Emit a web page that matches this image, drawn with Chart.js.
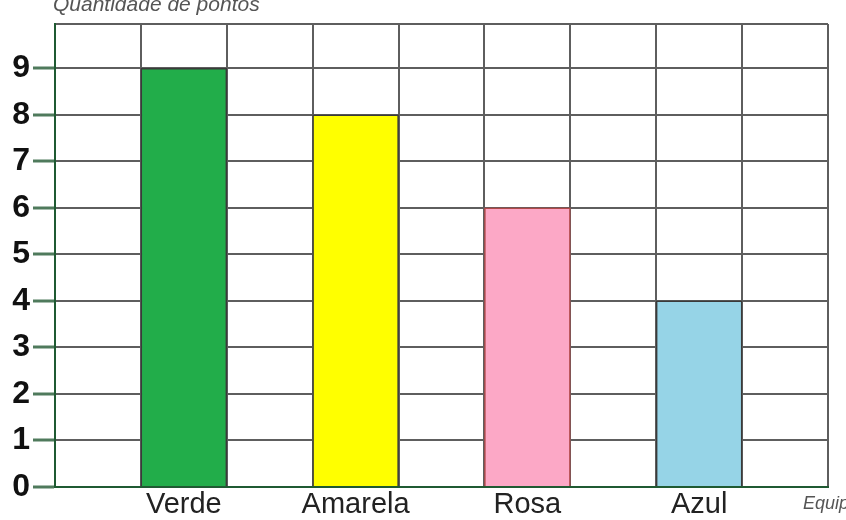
<!DOCTYPE html>
<html>
<head>
<meta charset="utf-8">
<script src="https://cdn.jsdelivr.net/npm/chart.js@4/dist/chart.umd.min.js"></script>
<style>
  html, body { margin: 0; padding: 0; background: #fff; }
  #wrap { width: 846px; height: 520px; }
</style>
</head>
<body>
<div id="wrap"><canvas id="chart"></canvas></div>
<script>
// chart data
const teams = ["Verde", "Amarela", "Rosa", "Azul"];
const points = [9, 8, 6, 4];
const barColors = ["#22ad4a", "#ffff00", "#fca8c6", "#96d4e7"];
const yTicks = [0, 1, 2, 3, 4, 5, 6, 7, 8, 9];
const yMax = 9.95;

// every team sits in a column with an empty column on both sides
const labels = [""];
const values = [null];
const colors = ["#fff"];
teams.forEach((t, i) => {
  labels.push(t, "");
  values.push(points[i], null);
  colors.push(barColors[i], "#fff");
});

// titles drawn partly cut off at the canvas edges
const edgeTitles = {
  id: "edgeTitles",
  afterDraw(chart) {
    const ctx = chart.ctx;
    const area = chart.chartArea;
    ctx.save();
    ctx.fillStyle = "#555";
    ctx.textBaseline = "alphabetic";
    ctx.font = "italic 21px 'Liberation Sans', Arial, sans-serif";
    ctx.fillText("Quantidade de pontos", area.left - 2, 11);
    ctx.font = "italic 18px 'Liberation Sans', Arial, sans-serif";
    ctx.fillText("Equipes", area.right - 25, 509);
    ctx.restore();
  }
};

new Chart(document.getElementById("chart"), {
  type: "bar",
  data: {
    labels: labels,
    datasets: [{
      data: values,
      backgroundColor: colors,
      borderColor: ctx => (ctx.dataIndex === 5 ? "#b04848" : "#3a3a3a"),
      borderWidth: 1.5,
      categoryPercentage: 1,
      barPercentage: 1
    }]
  },
  options: {
    responsive: true,
    maintainAspectRatio: false,
    animation: false,
    layout: { padding: { top: 24, right: 18, left: 0, bottom: 0 } },
    plugins: {
      legend: { display: false },
      tooltip: { enabled: false }
    },
    scales: {
      x: {
        grid: {
          offset: true,
          color: "#5e5e5e",
          lineWidth: 2,
          drawTicks: false
        },
        border: { color: "#1f5a32", width: 2 },
        ticks: {
          color: "#222",
          padding: 1,
          autoSkip: false,
          maxRotation: 0,
          font: { family: "'Liberation Sans', Arial, sans-serif", size: 29 }
        },
        afterFit(scale) { scale.height = 33; }
      },
      y: {
        min: 0,
        max: yMax,
        afterBuildTicks(scale) {
          scale.ticks = yTicks.concat([yMax]).map(v => ({ value: v }));
        },
        grid: {
          color: "#5e5e5e",
          lineWidth: 2,
          tickLength: 22,
          tickColor: ctx => (ctx.tick && ctx.tick.value === yMax ? "rgba(0,0,0,0)" : "#4f7a5c"),
          tickWidth: 3
        },
        border: { color: "#1f5a32", width: 2 },
        ticks: {
          color: "#111",
          padding: 3,
          callback: v => (v === yMax ? "" : v),
          font: { family: "'Liberation Sans', Arial, sans-serif", size: 32, weight: "bold" }
        },
        afterFit(scale) { scale.width = 55; }
      }
    }
  },
  plugins: [edgeTitles]
});
</script>
</body>
</html>
